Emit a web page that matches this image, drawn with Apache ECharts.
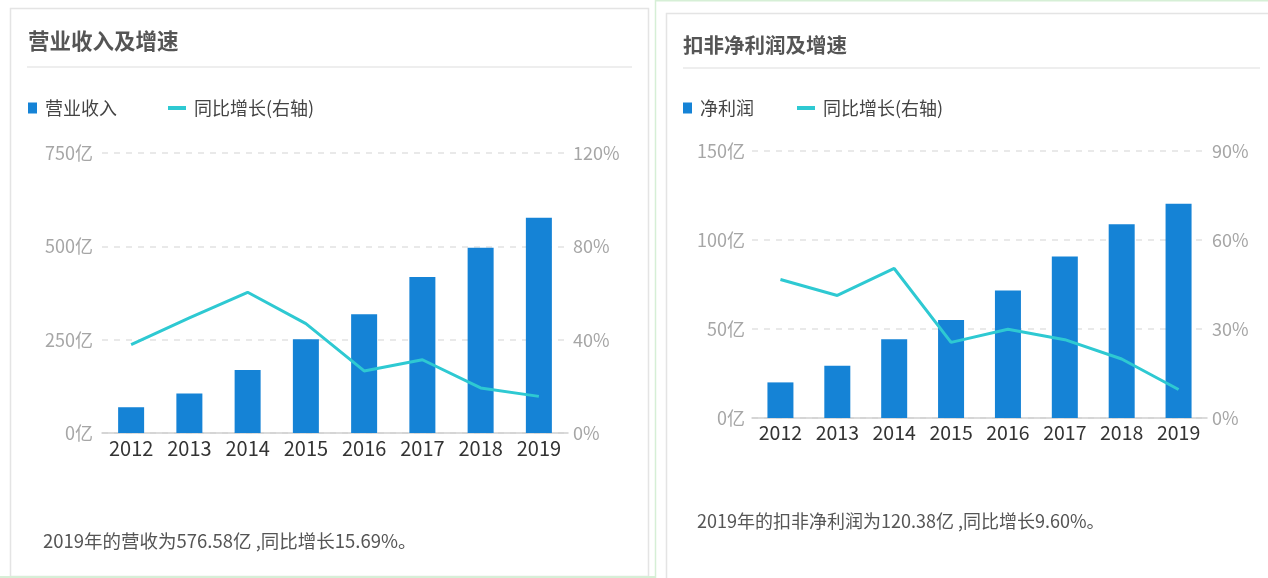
<!DOCTYPE html>
<html>
<head>
<meta charset="utf-8">
<script src="https://cdn.jsdelivr.net/npm/echarts@6/dist/echarts.min.js"></script>
<style>
html,body{margin:0;padding:0;background:#fff;}
#c{width:1268px;height:578px;}
</style>
</head>
<body>
<div id="c"></div>
<script>
// ---- data ----
var years = ['2012','2013','2014','2015','2016','2017','2018','2019'];
var revenue = [69, 106, 169, 251, 318, 418, 496, 576.58];           // 亿
var revenueGrowth = [37.9, 49.3, 60.3, 46.9, 26.6, 31.4, 19.3, 15.69]; // %
var profit = [20.0, 29.4, 44.3, 55.0, 71.6, 90.7, 108.9, 120.38];    // 亿
var profitGrowth = [46.7, 41.3, 50.4, 25.5, 29.9, 26.4, 19.9, 9.60];  // %
var leftTicks = {min: 0, max: 750, interval: 250};
var leftPctTicks = {min: 0, max: 120, interval: 40};
var rightTicks = {min: 0, max: 150, interval: 50};
var rightPctTicks = {min: 0, max: 90, interval: 30};

var FONT = '"Noto Sans CJK SC", "Noto Sans", sans-serif';
var BAR = '#1583d6';
var LINE = '#2ec9d2';

var chart = echarts.init(document.getElementById('c'), null, {renderer: 'canvas'});

function yAxisLeft(t, grid, m) {
  return {
    type: 'value', gridIndex: grid, min: t.min, max: t.max, interval: t.interval,
    axisLine: {show: false}, axisTick: {show: false},
    axisLabel: {formatter: '{value}亿', color: '#a6a6a6', fontSize: 18, fontFamily: FONT, margin: m},
    splitLine: {show: true, lineStyle: {type: [6, 6], color: '#e2e2e2', width: 1.5}}
  };
}
function yAxisRight(t, grid, m) {
  return {
    type: 'value', gridIndex: grid, position: 'right', min: t.min, max: t.max, interval: t.interval,
    axisLine: {show: false}, axisTick: {show: false},
    axisLabel: {formatter: '{value}%', color: '#a6a6a6', fontSize: 18, fontFamily: FONT, margin: m},
    splitLine: {show: false}
  };
}
function xAxis(grid, fs) {
  return {
    type: 'category', gridIndex: grid, data: years,
    axisLine: {lineStyle: {color: '#cfcfcf', width: 1.5}}, axisTick: {show: false},
    axisLabel: {color: '#333', fontSize: fs, fontFamily: FONT, margin: 5, interval: 0, hideOverlap: false}
  };
}
function legendText() {
  return {fontSize: 18, color: '#444', fontFamily: FONT, padding: [0, 0, 0, 3]};
}

var option = {
  animation: false,
  textStyle: {fontFamily: FONT},
  title: [
    {text: '营业收入及增速', left: 28, top: 30, padding: 0, textStyle: {fontSize: 21.5, fontWeight: 'bold', color: '#555', fontFamily: FONT}},
    {text: '扣非净利润及增速', left: 683, top: 35, padding: 0, textStyle: {fontSize: 20.5, fontWeight: 'bold', color: '#555', fontFamily: FONT}}
  ],
  legend: [
    {left: 28, top: 99, padding: 0, icon: 'rect', itemWidth: 9, itemHeight: 11, data: ['营业收入'], textStyle: legendText()},
    {left: 168, top: 99, padding: 0, icon: 'rect', itemWidth: 18, itemHeight: 4, data: ['同比增长(右轴)'], textStyle: legendText()},
    {left: 683, top: 99, padding: 0, icon: 'rect', itemWidth: 9, itemHeight: 11, data: ['净利润'], textStyle: legendText()},
    {left: 797, top: 99, padding: 0, icon: 'rect', itemWidth: 18, itemHeight: 4, data: ['同比增长 (右轴)'],
     formatter: function(){ return '同比增长(右轴)'; }, textStyle: legendText()}
  ],
  grid: [
    {left: 102, right: 700, top: 153, bottom: 145},
    {left: 752, right: 61, top: 151, bottom: 160}
  ],
  xAxis: [xAxis(0, 20), xAxis(1, 19.5)],
  yAxis: [yAxisLeft(leftTicks, 0, 9), yAxisRight(leftPctTicks, 0, 5), yAxisLeft(rightTicks, 1, 7), yAxisRight(rightPctTicks, 1, 5)],
  series: [
    {name: '营业收入', type: 'bar', xAxisIndex: 0, yAxisIndex: 0, data: revenue, barWidth: 26,
     itemStyle: {color: BAR}},
    {name: '同比增长(右轴)', type: 'line', xAxisIndex: 0, yAxisIndex: 1, data: revenueGrowth,
     symbol: 'none', lineStyle: {color: LINE, width: 3}, itemStyle: {color: LINE}},
    {name: '净利润', type: 'bar', xAxisIndex: 1, yAxisIndex: 2, data: profit, barWidth: 26,
     itemStyle: {color: BAR}},
    {name: '同比增长 (右轴)', type: 'line', xAxisIndex: 1, yAxisIndex: 3, data: profitGrowth,
     symbol: 'none', lineStyle: {color: LINE, width: 3}, itemStyle: {color: LINE}}
  ],
  graphic: [
    {type: 'rect', silent: true, shape: {x: 10.5, y: 8.5, width: 638, height: 568},
     style: {fill: 'none', stroke: '#e4e4e4', lineWidth: 1.5}, z: -10},
    {type: 'line', silent: true, shape: {x1: 0, y1: 577, x2: 656, y2: 577}, style: {stroke: '#d6efd6', lineWidth: 2}},
    {type: 'line', silent: true, shape: {x1: 655.5, y1: 0, x2: 655.5, y2: 578}, style: {stroke: '#d6efd6', lineWidth: 1.5}},
    {type: 'line', silent: true, shape: {x1: 655, y1: 0.5, x2: 1268, y2: 0.5}, style: {stroke: '#d6efd6', lineWidth: 2}},
    {type: 'rect', silent: true, shape: {x: 666.5, y: 13.5, width: 700, height: 700},
     style: {fill: 'none', stroke: '#e4e4e4', lineWidth: 1.5}, z: -10},
    {type: 'line', silent: true, shape: {x1: 27, y1: 67, x2: 632, y2: 67}, style: {stroke: '#e8e8e8', lineWidth: 1.5}},
    {type: 'line', silent: true, shape: {x1: 683, y1: 68, x2: 1260, y2: 68}, style: {stroke: '#e8e8e8', lineWidth: 1.5}},
    {type: 'text', silent: true, left: 43, top: 532,
     style: {text: '2019年的营收为576.58亿 ,同比增长15.69%。', fill: '#555', font: '18.5px ' + FONT}},
    {type: 'text', silent: true, left: 697, top: 512,
     style: {text: '2019年的扣非净利润为120.38亿 ,同比增长9.60%。', fill: '#555', font: '18px ' + FONT}}
  ]
};
chart.setOption(option);
</script>
</body>
</html>
